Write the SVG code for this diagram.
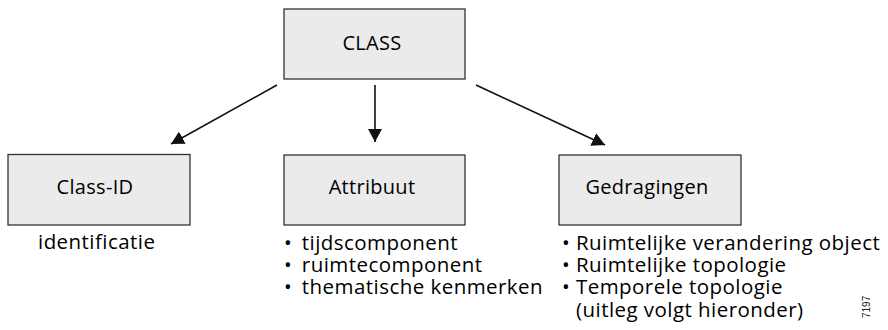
<svg xmlns="http://www.w3.org/2000/svg" width="888" height="330" viewBox="0 0 888 330">
<style>
.box{fill:#ebebeb;stroke:#333;stroke-width:1.3}
.lbl{font-family:"Open Sans","Noto Sans",sans-serif;font-size:20px;letter-spacing:0.3px;fill:#000;text-anchor:middle}
.txt{font-family:"Open Sans","Noto Sans",sans-serif;font-size:20.5px;letter-spacing:0.45px;fill:#000}
.edge{stroke:#111;stroke-width:1.6;fill:none}
</style>
<defs>
<marker id="ah" viewBox="0 0 13 14" refX="13" refY="7" markerWidth="13" markerHeight="14" markerUnits="userSpaceOnUse" orient="auto">
<path d="M0,0 L13,7 L0,14 Z" fill="#111"/>
</marker>
</defs>
<rect width="888" height="330" fill="#fff"/>
<g id="connectors">
<line class="edge" x1="277" y1="85" x2="171" y2="144" marker-end="url(#ah)"/>
<line class="edge" x1="375" y1="85" x2="375" y2="142" marker-end="url(#ah)"/>
<line class="edge" x1="476" y1="85" x2="605" y2="145" marker-end="url(#ah)"/>
</g>
<g id="class">
<rect class="box" x="284" y="9" width="181" height="70"/>
<text class="lbl" x="372" y="50">CLASS</text>
</g>
<g id="class-id">
<rect class="box" x="8" y="154.5" width="182" height="70.5"/>
<text class="lbl" x="95" y="194">Class-ID</text>
<text class="txt" x="38" y="249">identificatie</text>
</g>
<g id="attribuut">
<rect class="box" x="284" y="155" width="181" height="70"/>
<text class="lbl" x="372" y="194">Attribuut</text>
<text class="txt" x="284" y="250">•&#8198; tijdscomponent</text>
<text class="txt" x="284" y="272">•&#8198; ruimtecomponent</text>
<text class="txt" x="284" y="294">•&#8198; thematische kenmerken</text>
</g>
<g id="gedragingen">
<rect class="box" x="559" y="155" width="182" height="70"/>
<text class="lbl" x="647" y="194">Gedragingen</text>
<text class="txt" x="562" y="250">• Ruimtelijke verandering object</text>
<text class="txt" x="562" y="272">• Ruimtelijke topologie</text>
<text class="txt" x="562" y="294">• Temporele topologie</text>
<text class="txt" x="576" y="316.5">(uitleg volgt hieronder)</text>
</g>
<text font-family="Liberation Sans, Arial, sans-serif" font-size="10" fill="#222" transform="translate(870,318) rotate(-90)">7197</text>
</svg>
